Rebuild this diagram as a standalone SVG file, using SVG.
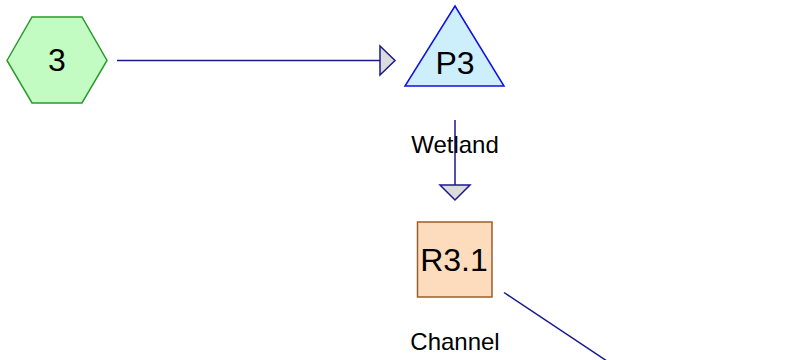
<svg xmlns="http://www.w3.org/2000/svg" width="788" height="360" viewBox="0 0 788 360">
<style>
.edge{stroke:#1a1a8c;stroke-width:1.5;fill:none}
.head{fill:#dcdcdc;stroke:#1a1a8c;stroke-width:1.5;stroke-linejoin:miter}
.nlabel{font-family:"Liberation Sans",Arial,sans-serif;font-size:32px;fill:#000;text-anchor:middle}
.elabel{font-family:"Liberation Sans",Arial,sans-serif;font-size:24px;fill:#000;text-anchor:middle}
</style>
<rect width="788" height="360" fill="#ffffff"/>
<g id="connectors">
<g id="e1">
<line class="edge" x1="117" y1="60.5" x2="380" y2="60.5"/>
<polygon class="head" points="380,46 395,60.5 380,75"/>
</g>
<g id="e2">
<line class="edge" x1="455" y1="120" x2="455" y2="185"/>
<polygon class="head" points="440,185 470,185 455,200"/>
<text class="elabel" x="455" y="153">Wetland</text>
</g>
<g id="e3">
<line class="edge" x1="504" y1="292.5" x2="640" y2="383"/>
<text class="elabel" x="455" y="350">Channel</text>
</g>
</g>
<g id="node-3">
<polygon points="7,60.5 32,17 82,17 107,60.5 82,103 32,103" fill="#c2fcc2" stroke="#2a9a2a" stroke-width="1.5"/>
<text class="nlabel" x="57" y="71">3</text>
</g>
<g id="node-P3">
<polygon points="455,6 504,86 405,86" fill="#cdeefb" stroke="#1010e0" stroke-width="1.5"/>
<text class="nlabel" x="455" y="74">P3</text>
</g>
<g id="node-R3.1">
<rect x="417.5" y="222" width="74.5" height="75" fill="#fddcbe" stroke="#9a5f2a" stroke-width="1.5"/>
<text class="nlabel" x="454" y="271">R3.1</text>
</g>
</svg>
